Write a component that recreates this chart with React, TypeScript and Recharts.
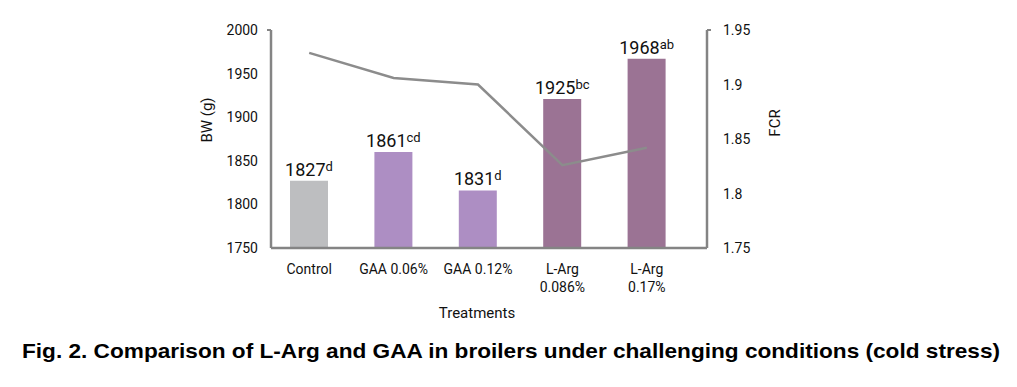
import React from 'react';
import { ComposedChart, Bar, Line, XAxis, YAxis, Cell, LabelList, Label } from 'recharts';

const categories = ['Control', 'GAA 0.06%', 'GAA 0.12%', 'L-Arg 0.086%', 'L-Arg 0.17%'];
const tickLabelLines = [['Control'], ['GAA 0.06%'], ['GAA 0.12%'], ['L-Arg', '0.086%'], ['L-Arg', '0.17%']];
const bwLabelValues = [1827, 1861, 1831, 1925, 1968];
const bwLetters = ['d', 'cd', 'd', 'bc', 'ab'];
const bwBarHeights = [1827, 1860, 1816, 1921, 1967];
const fcrValues = [1.929, 1.906, 1.9, 1.826, 1.842];
const barColors = ['#bdbec0', '#ad8ec3', '#ad8ec3', '#9b7394', '#9b7394'];
const bwTicks = [1750, 1800, 1850, 1900, 1950, 2000];
const fcrTicks = [1.75, 1.8, 1.85, 1.9, 1.95];

const data = categories.map((name, i) => ({
  name,
  bw: bwBarHeights[i],
  fcr: fcrValues[i],
  label: bwLabelValues[i],
  letter: bwLetters[i],
}));

const FONT = 'Roboto, "DejaVu Sans", sans-serif';
const TEXT = '#111111';
const AXIS = '#848484';

const LeftTick = (props: any) => {
  const { x, y, payload } = props;
  return (
    <g>
      {payload.value === 2000 && <line x1={x + 9} x2={x + 13} y1={y} y2={y} stroke={AXIS} strokeWidth={2} />}
      <text x={x} y={y} dy="0.36em" textAnchor="end" fontFamily={FONT} fontSize={14} fill={TEXT}>
        {payload.value}
      </text>
    </g>
  );
};

const RightTick = (props: any) => {
  const { x, y, payload } = props;
  return (
    <g>
      {payload.value === 1.95 && <line x1={x - 16} x2={x - 12} y1={y} y2={y} stroke={AXIS} strokeWidth={2} />}
      <text x={x} y={y} dy="0.36em" textAnchor="start" fontFamily={FONT} fontSize={14} fill={TEXT}>
        {String(payload.value)}
      </text>
    </g>
  );
};

const XTick = (props: any) => {
  const { x, y, index } = props;
  const lines = tickLabelLines[index] || [];
  return (
    <text x={x} y={y} textAnchor="middle" fontFamily={FONT} fontSize={14} fill={TEXT}>
      {lines.map((l, i) => (
        <tspan key={i} x={x} dy={i === 0 ? '0.7em' : 18}>
          {l}
        </tspan>
      ))}
    </text>
  );
};

const BarLabel = (props: any) => {
  const { x, y, width, index } = props;
  const d = data[index];
  return (
    <text x={x + width / 2} y={y - 5} textAnchor="middle" fontFamily={FONT} fontSize={18} fill={TEXT}>
      {d.label}
      <tspan fontSize={13} dy={-5}>{d.letter}</tspan>
    </text>
  );
};

export default function App() {
  return (
    <div style={{ width: 1001, height: 371 }}>
      <ComposedChart
        width={1001}
        height={371}
        data={data}
        margin={{ top: 22, right: 242, bottom: 101, left: 203 }}
      >
        <XAxis
          dataKey="name"
          xAxisId="x"
          height={30}
          padding={{ left: -4, right: 18 }}
          axisLine={{ stroke: AXIS, strokeWidth: 2.5 }}
          tickLine={false}
          tick={<XTick />}
          tickMargin={10}
          interval={0}
        >
          <Label
            content={() => (
              <g>
                <text x={469} y={310} textAnchor="middle" fontFamily={FONT} fontSize={15} fill={TEXT}>
                  Treatments
                </text>
                <text
                  x={503}
                  y={350}
                  textAnchor="middle"
                  fontFamily='"Liberation Sans", Arial, sans-serif'
                  fontWeight="bold"
                  fontSize={21}
                  fill="#000"
                  textLength={978}
                  lengthAdjust="spacingAndGlyphs"
                >
                  Fig. 2. Comparison of L-Arg and GAA in broilers under challenging conditions (cold stress)
                </text>
              </g>
            )}
          />
        </XAxis>
        <YAxis
          yAxisId="bw"
          orientation="left"
          width={60}
          domain={[1750, 2000]}
          ticks={bwTicks}
          allowDataOverflow
          axisLine={{ stroke: AXIS, strokeWidth: 2.5 }}
          tickLine={false}
          tickSize={6}
          tickMargin={7}
          tick={<LeftTick />}
        >
          <Label
            content={() => (
              <text
                x={0}
                y={0}
                transform="translate(199,112) rotate(-90)"
                textAnchor="middle"
                dominantBaseline="central"
                fontFamily={FONT}
                fontSize={15}
                fill={TEXT}
              >
                BW (g)
              </text>
            )}
          />
        </YAxis>
        <YAxis
          yAxisId="fcr"
          orientation="right"
          width={60}
          domain={[1.75, 1.95]}
          ticks={fcrTicks}
          allowDataOverflow
          axisLine={{ stroke: AXIS, strokeWidth: 2.5 }}
          tickLine={false}
          tickSize={6}
          tickMargin={10}
          tick={<RightTick />}
        >
          <Label
            content={() => (
              <text
                x={0}
                y={0}
                transform="translate(767,115) rotate(-90)"
                textAnchor="middle"
                dominantBaseline="central"
                fontFamily={FONT}
                fontSize={15}
                fill={TEXT}
              >
                FCR
              </text>
            )}
          />
        </YAxis>
        <Bar dataKey="bw" xAxisId="x" yAxisId="bw" barSize={38} isAnimationActive={false}>
          {data.map((_, i) => (
            <Cell key={i} fill={barColors[i]} />
          ))}
          <LabelList dataKey="label" content={<BarLabel />} />
        </Bar>
        <Line
          dataKey="fcr"
          xAxisId="x"
          yAxisId="fcr"
          stroke="#8c8c8c"
          strokeWidth={2.5}
          dot={false}
          activeDot={false}
          isAnimationActive={false}
        />
      </ComposedChart>
    </div>
  );
}
